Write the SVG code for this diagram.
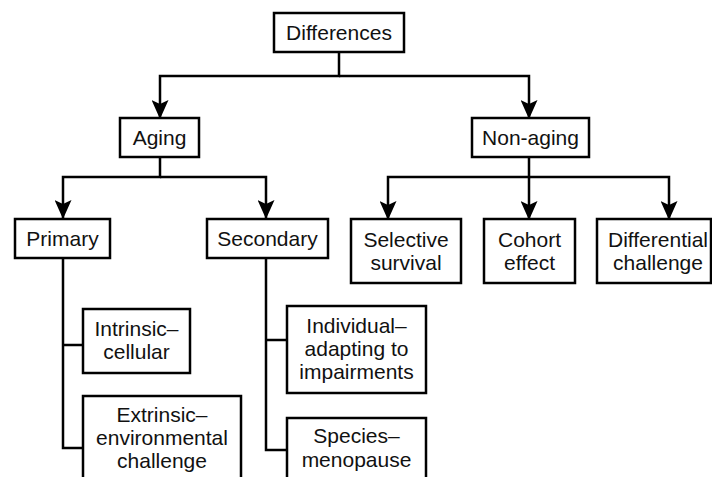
<svg xmlns="http://www.w3.org/2000/svg" width="712" height="477" viewBox="0 0 712 477">
<style>
.box{fill:#fff;stroke:#000;stroke-width:2.5}
.t{font-family:"Liberation Sans",Arial,Helvetica,sans-serif;font-size:21px;fill:#111;text-anchor:middle}
.c{fill:none;stroke:#000;stroke-width:2.5}
</style>
<defs>
<marker id="arr" viewBox="0 0 19 17" refX="18" refY="8.5" markerWidth="19" markerHeight="17" markerUnits="userSpaceOnUse" orient="auto">
<path d="M0,0 L19,8.5 L0,17 L4,8.5 z" fill="#000"/>
</marker>
</defs>
<rect width="712" height="477" fill="#fff"/>
<g id="connectors">
<path class="c" d="M339,52 V76 H160 V118" marker-end="url(#arr)"/>
<path class="c" d="M339,76 H529 V118" marker-end="url(#arr)"/>
<path class="c" d="M160,157 V177 H63 V218" marker-end="url(#arr)"/>
<path class="c" d="M160,177 H266 V218" marker-end="url(#arr)"/>
<path class="c" d="M529,157 V177 H388 V219" marker-end="url(#arr)"/>
<path class="c" d="M529,177 V219" marker-end="url(#arr)"/>
<path class="c" d="M529,177 H669 V219" marker-end="url(#arr)"/>
<path class="c" d="M63,258 V448 H83 M63,345 H83"/>
<path class="c" d="M266,258 V450 H287 M266,340 H287"/>
</g>
<g id="differences"><rect class="box" x="274" y="13" width="130" height="39"/><text class="t" x="339" y="40">Differences</text></g>
<g id="aging"><rect class="box" x="120" y="118" width="79" height="39"/><text class="t" x="159.5" y="145">Aging</text></g>
<g id="nonaging"><rect class="box" x="472" y="118" width="117" height="39"/><text class="t" x="530.5" y="145">Non-aging</text></g>
<g id="primary"><rect class="box" x="15" y="219" width="95" height="39"/><text class="t" x="62.5" y="246">Primary</text></g>
<g id="secondary"><rect class="box" x="207" y="219" width="121" height="39"/><text class="t" x="267.5" y="246">Secondary</text></g>
<g id="selective"><rect class="box" x="351" y="219" width="110" height="64"/><text class="t" x="406" y="247">Selective</text><text class="t" x="406" y="270">survival</text></g>
<g id="cohort"><rect class="box" x="484" y="219" width="91" height="64"/><text class="t" x="529.5" y="247">Cohort</text><text class="t" x="529.5" y="270">effect</text></g>
<g id="differential"><rect class="box" x="597" y="219" width="114" height="64"/><text class="t" x="658" y="247">Differential</text><text class="t" x="658" y="270">challenge</text></g>
<g id="intrinsic"><rect class="box" x="83" y="309" width="107" height="64"/><text class="t" x="136.5" y="336">Intrinsic–</text><text class="t" x="136.5" y="359">cellular</text></g>
<g id="extrinsic"><rect class="box" x="83" y="396" width="158" height="95"/><text class="t" x="162" y="422">Extrinsic–</text><text class="t" x="162" y="445">environmental</text><text class="t" x="162" y="468">challenge</text></g>
<g id="individual"><rect class="box" x="287" y="306" width="139" height="87"/><text class="t" x="356.5" y="333">Individual–</text><text class="t" x="356.5" y="356">adapting to</text><text class="t" x="356.5" y="379">impairments</text></g>
<g id="species"><rect class="box" x="287" y="418" width="139" height="73"/><text class="t" x="356.5" y="443">Species–</text><text class="t" x="356.5" y="467">menopause</text></g>
</svg>
